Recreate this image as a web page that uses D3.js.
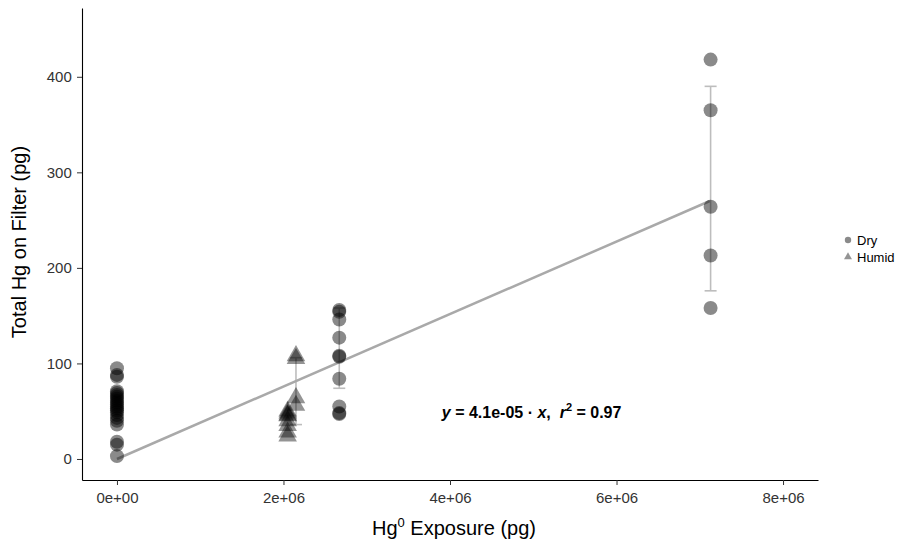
<!DOCTYPE html>
<html>
<head>
<meta charset="utf-8">
<script src="https://cdn.jsdelivr.net/npm/d3@7"></script>
<style>
  body { margin: 0; background: #fff; }
  text { font-family: "Liberation Sans", Arial, sans-serif; }
</style>
</head>
<body>
<div id="chartArea"></div>
<script>
// data
var dryX = [0, 0, 0, 0, 0, 0, 0, 0, 0, 0, 0, 0, 0, 0, 0, 0, 0, 0, 0, 0, 0, 0,
            2.67e6, 2.67e6, 2.67e6, 2.67e6, 2.67e6, 2.67e6, 2.67e6, 2.67e6, 2.67e6, 2.67e6,
            7.13e6, 7.13e6, 7.13e6, 7.13e6, 7.13e6];
var dryY = [95, 88, 86, 71, 69, 67, 65, 63, 61, 59, 57, 55, 53, 51, 49, 46, 43, 40, 36, 18, 15, 3,
            156, 154, 146, 127, 108, 107, 84, 55, 48, 47,
            418, 365, 264, 213, 158];
var humidX = [2.15e6, 2.15e6, 2.15e6, 2.15e6, 2.05e6, 2.05e6, 2.05e6, 2.05e6, 2.05e6, 2.05e6, 2.05e6, 2.05e6];
var humidY = [108, 105, 64, 56, 50, 48, 45, 40, 35, 28, 24, 46];

var barX = [2.15e6, 2.67e6, 7.13e6];
var barLow = [36, 74, 176];
var barHigh = [106, 158, 390];

var fitX = [0, 7.12e6];
var fitY = [0, 270];

var xTicks = [0, 2e6, 4e6, 6e6, 8e6];
var yTicks = [0, 100, 200, 300, 400];
var groups = ["Dry", "Humid"];

var margin = {top: 8, right: 86, bottom: 66, left: 82},
    width = 904 - margin.left - margin.right,
    height = 546 - margin.top - margin.bottom;

var svg = d3.select("#chartArea").append("svg")
    .attr("width", 904)
    .attr("height", 546)
  .append("g")
    .attr("transform", "translate(" + margin.left + "," + margin.top + ")");

var x = d3.scaleLinear().domain([-0.42e6, 8.42e6]).range([0, width]);
var y = d3.scaleLinear().domain([-22, 472]).range([height, 0]);

// error bars
var bars = svg.append("g");
barX.forEach(function(bx, i) {
  var g = bars.append("g").attr("stroke", "#bdbdbd").attr("stroke-width", 1.6);
  g.append("line").attr("x1", x(bx)).attr("x2", x(bx)).attr("y1", y(barLow[i])).attr("y2", y(barHigh[i]));
  g.append("line").attr("x1", x(bx) - 6).attr("x2", x(bx) + 6).attr("y1", y(barLow[i])).attr("y2", y(barLow[i]));
  g.append("line").attr("x1", x(bx) - 6).attr("x2", x(bx) + 6).attr("y1", y(barHigh[i])).attr("y2", y(barHigh[i]));
});

// fit line
svg.append("path")
  .datum(fitX.map(function(d, i) { return [d, fitY[i]]; }))
  .attr("fill", "none")
  .attr("stroke", "#a9a9a9")
  .attr("stroke-width", 2.5)
  .attr("d", d3.line().x(function(d) { return x(d[0]); }).y(function(d) { return y(d[1]); }));

// points
svg.selectAll(".dry")
  .data(dryX)
  .enter().append("circle")
  .attr("class", "dry")
  .attr("cx", function(d) { return x(d); })
  .attr("cy", function(d, i) { return y(dryY[i]); })
  .attr("r", 7)
  .attr("fill", "#000")
  .attr("fill-opacity", 0.46);

var tri = d3.symbol().type(d3.symbolTriangle).size(150);
svg.selectAll(".humid")
  .data(humidX)
  .enter().append("path")
  .attr("class", "humid")
  .attr("d", tri)
  .attr("transform", function(d, i) { return "translate(" + x(d) + "," + y(humidY[i]) + ")"; })
  .attr("fill", "#000")
  .attr("fill-opacity", 0.42);

// axes
var xAxis = svg.append("g")
  .attr("transform", "translate(0," + height + ")")
  .call(d3.axisBottom(x).tickValues(xTicks).tickSize(5).tickSizeOuter(0)
    .tickFormat(function(d) { return d === 0 ? "0e+00" : (d / 1e6) + "e+06"; }));
var yAxis = svg.append("g")
  .call(d3.axisLeft(y).tickValues(yTicks).tickSize(5).tickSizeOuter(0));

[xAxis, yAxis].forEach(function(a) {
  a.select(".domain").attr("stroke", "#000").attr("stroke-width", 1.1);
  a.selectAll(".tick line").attr("stroke", "#333");
  a.selectAll(".tick text").attr("fill", "#333").style("font-size", "15px");
});
xAxis.selectAll(".tick text").attr("dy", "1.0em");
yAxis.selectAll(".tick text").attr("dx", "-0.15em");

// axis titles
var xt = svg.append("text")
  .attr("x", width / 2 + 4)
  .attr("y", height + 55)
  .attr("text-anchor", "middle")
  .style("font-size", "20px")
  .attr("fill", "#000");
xt.append("tspan").text("Hg");
xt.append("tspan").attr("dy", "-8").style("font-size", "13px").text("0");
xt.append("tspan").attr("dy", "8").text(" Exposure (pg)");

svg.append("text")
  .attr("transform", "translate(" + (-56) + "," + (height / 2 - 2) + ") rotate(-90)")
  .attr("text-anchor", "middle")
  .style("font-size", "20px")
  .attr("fill", "#000")
  .text("Total Hg on Filter (pg)");

// equation label
var eq = svg.append("text")
  .attr("x", x(4.98e6))
  .attr("y", y(43))
  .attr("text-anchor", "middle")
  .style("font-size", "16px")
  .style("font-weight", "bold")
  .attr("fill", "#000");
eq.append("tspan").style("font-style", "italic").text("y");
eq.append("tspan").text(" = 4.1e-05 \u00b7 ");
eq.append("tspan").style("font-style", "italic").text("x");
eq.append("tspan").text(",\u00a0\u00a0");
eq.append("tspan").style("font-style", "italic").text("r");
eq.append("tspan").attr("dy", "-7").style("font-size", "11px").text("2");
eq.append("tspan").attr("dy", "7").text(" = 0.97");

// legend
var legend = svg.append("g").attr("transform", "translate(" + (width + 30) + ",232)");
groups.forEach(function(gname, i) {
  var row = legend.append("g").attr("transform", "translate(0," + (i * 17) + ")");
  if (i === 0) {
    row.append("circle").attr("r", 3.2).attr("fill", "#000").attr("fill-opacity", 0.46);
  } else {
    row.append("path").attr("d", d3.symbol().type(d3.symbolTriangle).size(28)).attr("fill", "#000").attr("fill-opacity", 0.42);
  }
  row.append("text").attr("x", 9).attr("dy", "0.35em").style("font-size", "13px").attr("fill", "#000").text(gname);
});
</script>
</body>
</html>
